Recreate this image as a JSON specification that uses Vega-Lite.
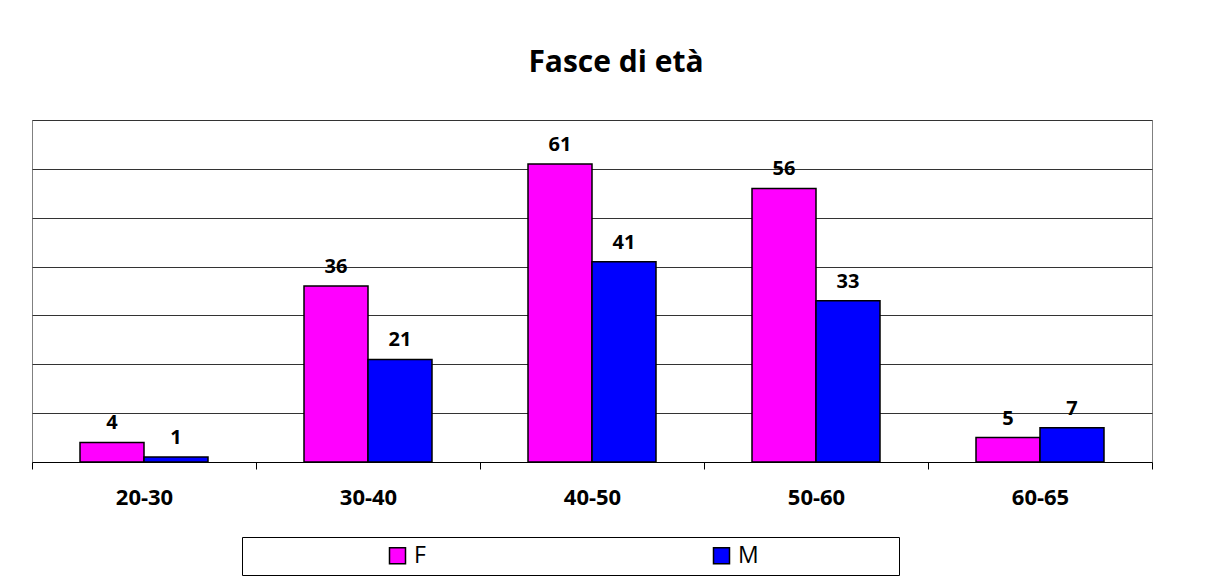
{
  "$schema": "https://vega.github.io/schema/vega-lite/v6.json",
  "width": 1120,
  "height": 342,
  "autosize": "none",
  "padding": {"left": 32, "top": 120, "right": 57, "bottom": 121},
  "background": "white",
  "title": {
    "text": "Fasce di età",
    "font": "Open Sans",
    "fontSize": 30,
    "fontWeight": "bold",
    "color": "black",
    "anchor": "middle",
    "baseline": "alphabetic",
    "dx": 24,
    "offset": 18
  },
  "data": {
    "values": [
      {"fascia": "20-30", "sesso": "F", "n": 4},
      {"fascia": "20-30", "sesso": "M", "n": 1},
      {"fascia": "30-40", "sesso": "F", "n": 36},
      {"fascia": "30-40", "sesso": "M", "n": 21},
      {"fascia": "40-50", "sesso": "F", "n": 61},
      {"fascia": "40-50", "sesso": "M", "n": 41},
      {"fascia": "50-60", "sesso": "F", "n": 56},
      {"fascia": "50-60", "sesso": "M", "n": 33},
      {"fascia": "60-65", "sesso": "F", "n": 5},
      {"fascia": "60-65", "sesso": "M", "n": 7}
    ]
  },
  "encoding": {
    "x": {
      "field": "fascia",
      "type": "nominal",
      "sort": null,
      "title": null,
      "scale": {"paddingInner": 0, "paddingOuter": 0},
      "axis": {
        "labelFont": "Open Sans",
        "labelFontSize": 22,
        "labelFontWeight": "bold",
        "labelColor": "black",
        "labelAngle": 0,
        "labelPadding": 18,
        "tickBand": "extent",
        "tickSize": 7,
        "tickColor": "black",
        "domainColor": "black",
        "domainWidth": 1,
        "grid": false
      }
    },
    "xOffset": {
      "field": "sesso",
      "type": "nominal",
      "scale": {"paddingInner": 0, "paddingOuter": 0.75}
    },
    "y": {
      "field": "n",
      "type": "quantitative",
      "title": null,
      "scale": {"domain": [0, 70]},
      "axis": {
        "labels": false,
        "ticks": false,
        "domain": false,
        "grid": true,
        "gridColor": "#333333",
        "gridWidth": 1,
        "values": [10, 20, 30, 40, 50, 60, 70]
      }
    }
  },
  "layer": [
    {
      "mark": {"type": "bar", "stroke": "black", "strokeWidth": 1.5},
      "encoding": {
        "color": {
          "field": "sesso",
          "type": "nominal",
          "scale": {"domain": ["F", "M"], "range": ["#FF00FF", "#0000FF"]},
          "legend": {
            "orient": "none",
            "legendX": 210,
            "legendY": 417,
            "direction": "horizontal",
            "columns": 2,
            "padding": 7,
            "strokeColor": "black",
            "fillColor": "white",
            "symbolType": "square",
            "symbolSize": 256,
            "symbolStrokeColor": "black",
            "symbolStrokeWidth": 1.5,
            "symbolOpacity": 1,
            "symbolOffset": 137,
            "labelOffset": 5,
            "columnPadding": 147,
            "labelFont": "Open Sans",
            "labelFontSize": 23,
            "labelColor": "black",
            "title": " ",
            "titleOrient": "right",
            "titlePadding": 133
          }
        }
      }
    },
    {
      "mark": {
        "type": "text",
        "dy": -13,
        "baseline": "alphabetic",
        "font": "Open Sans",
        "fontSize": 20,
        "fontWeight": "bold",
        "color": "black"
      },
      "encoding": {"text": {"field": "n", "type": "quantitative"}}
    }
  ],
  "config": {"view": {"stroke": "#808080", "strokeWidth": 1}}
}
